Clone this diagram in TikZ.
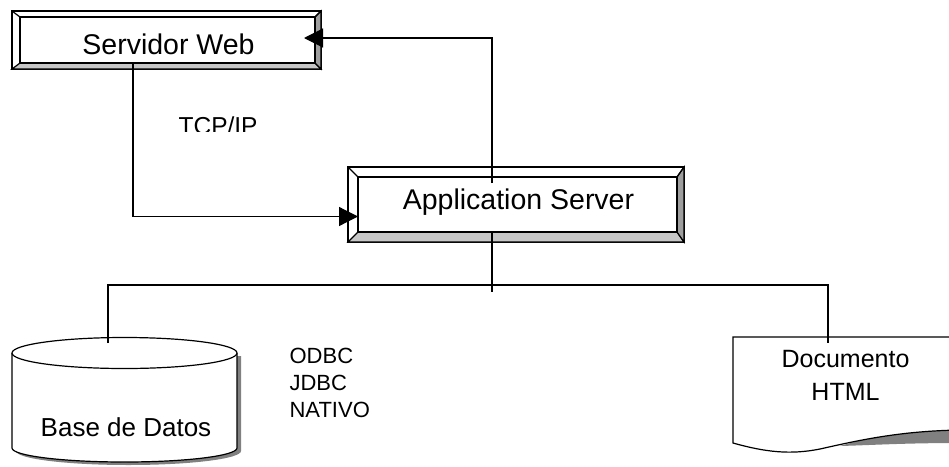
\documentclass[tikz,border=0pt]{standalone}
\usepackage{fontspec}
\setmainfont{Liberation Sans}
\usetikzlibrary{positioning}
\usetikzlibrary{arrows.meta}

\begin{document}
\begin{tikzpicture}[x=1pt, y=-1pt, line width=1.2pt,
	framebox/.style={draw, rectangle, inner sep=0pt},
	boxtext/.style={inner sep=0pt, font=\fontsize{28.5}{30}\selectfont},
	tip/.style={-{Triangle[length=19pt, width=19pt]}}]
	\useasboundingbox (0,0) rectangle (949,466);
	\clip (0,0) rectangle (949,466);
	% Servidor Web
	\draw[fill=white] (12,11) rectangle (321,69);
	\draw[fill=black!22] (12,69)--(321,69)--(315,63)--(20,63)--cycle;
	\draw[fill=black!38] (321,11)--(321,69)--(315,63)--(315,17)--cycle;
	\draw (12,11)--(20,17) (321,11)--(315,17);
	\node[framebox, fill=white, minimum width=295pt, minimum height=46pt] (web) at (167.5,40) {};
	\node[boxtext] (webtxt) at (168.5,44) {Servidor Web};
	% Application Server
	\draw[fill=white] (348,167) rectangle (684,242);
	\draw[fill=black!22] (348,242)--(684,242)--(677,232)--(358,232)--cycle;
	\draw[fill=black!38] (684,167)--(684,242)--(677,232)--(677,177)--cycle;
	\draw (348,167)--(358,177) (684,167)--(677,177);
	\node[framebox, fill=white, minimum width=319pt, minimum height=55pt] (app) at (517.5,204.5) {};
	\node[boxtext] (apptxt) at (518.5,202.5) {Application Server};
	% Base de Datos
	\fill[black!50] (16,356)--(16,451) arc[start angle=180, end angle=0, x radius=112.5, y radius=14]--(241,356)--cycle;
	\draw[fill=white] (12,353)--(12,448) arc[start angle=180, end angle=0, x radius=112.5, y radius=14]--(237,353);
	\draw[fill=white] (124.5,353) ellipse[x radius=112.5, y radius=15.5];
	\node[font=\fontsize{26}{28}\selectfont, inner sep=0pt] (db) at (126,427) {Base de Datos};
	% Documento HTML
	\fill[black!50] (840,446) .. controls (875,445) and (905,443) .. (960,443)--(960,430) .. controls (905,431) and (870,437) .. (840,446)--cycle;
	\draw[fill=white] (960,337)--(733,337)--(733,443) .. controls (765,452) and (790,455) .. (820,449) .. controls (860,440) and (900,431) .. (960,430);
	\node[align=center, inner sep=0pt, font=\fontsize{25}{33}\selectfont] (doc) at (845.5,375) {Documento\\HTML};
	\node[align=left, anchor=west, inner sep=0pt, font=\fontsize{22}{27}\selectfont] (drv) at (289,382.5) {ODBC\\JDBC\\NATIVO};
	\begin{scope}
		\clip (150,100) rectangle (300,131);
		\node[anchor=base west, inner sep=0pt, font=\fontsize{24.5}{26}\selectfont] (tcp) at (178,134.5) {TCP/IP};
	\end{scope}
	% connectors
	\coordinate (webout) at (133,63);
	\coordinate (appin) at (358,216.5);
	\coordinate (appout) at (492,183);
	\coordinate (webin) at (304,38);
	\coordinate (appbot) at (492,232);
	\coordinate (busend) at (492,292);
	\coordinate (bus) at (492,285);
	\coordinate (dbtop) at (108,343);
	\coordinate (doctop) at (828,343);
	\draw[tip] (webout) |- (appin);
	\draw[tip] (appout) |- (webin);
	\draw (appbot)--(busend);
	\draw (dbtop) |- (bus) -| (doctop);
\end{tikzpicture}
\end{document}
